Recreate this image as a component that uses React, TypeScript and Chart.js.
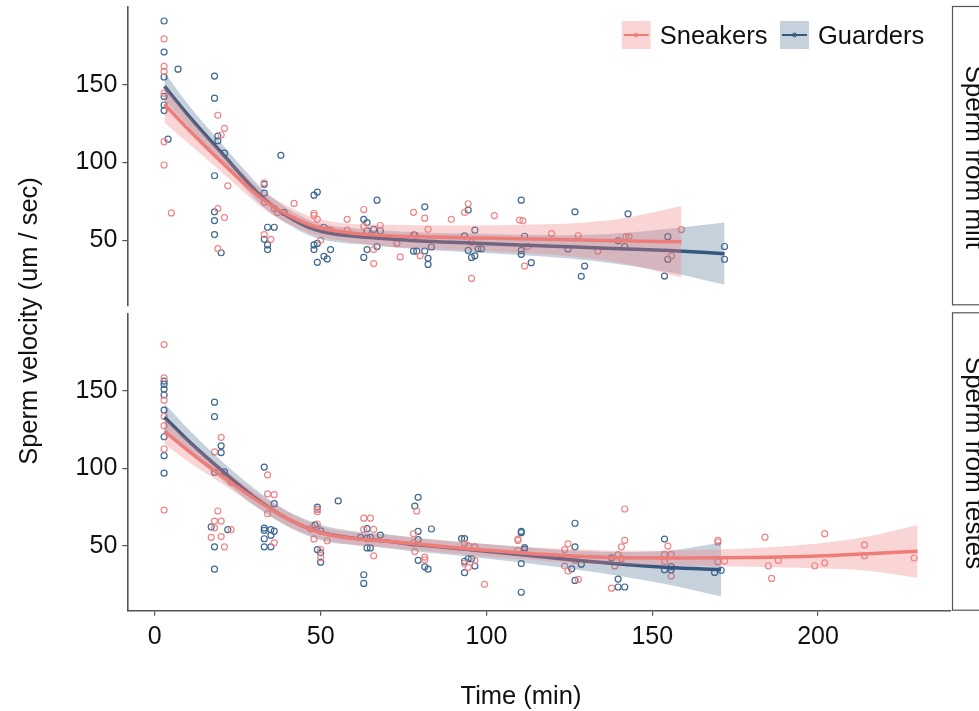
import React, { useEffect, useRef } from 'react';
import { Chart, registerables } from 'chart.js';

Chart.register(...registerables);

const FONT = '"Liberation Sans", Arial, Helvetica, sans-serif';

// ---- axes ----
const timeTicks = [0, 50, 100, 150, 200];
const velocityTicks = [50, 100, 150];
const timeRange = [-8.3, 240];
const velocityRange = [8.2, 200];

const groups = ['Sneakers', 'Guarders'];
const panels = ['Sperm from milt', 'Sperm from testes'];

// ---- observations: [time (min), velocity (um / sec)] ----
const miltSneakers: [number, number][] = [
  [2.8, 179.5], [2.8, 161.8], [2.8, 158.6], [2.8, 144.6], [2.8, 113.4], [2.8, 98.4], [5, 67.6],
  [19, 130.4], [21, 122], [20, 117.7], [22, 85], [19, 70.4], [21, 64.6], [19, 44.6],
  [33, 87], [33, 74.5], [36, 70.4], [37, 67.9], [33, 53.7], [35, 50.6], [42, 73.7],
  [48, 67.4], [48, 66], [49, 63.5], [50, 50], [52, 56.5], [53, 56.5], [58, 63.5], [58, 56.5],
  [63, 69.8], [63, 59], [68, 59.5], [66, 44], [66, 35], [73, 48], [74, 39.3],
  [78, 68], [78, 53.7], [80, 40], [81.4, 64.2], [82.4, 57.1], [89.4, 63.5], [94.5, 73.5],
  [93.4, 67.9], [95.5, 48.7], [95.5, 25.5], [102.4, 65.9], [110, 63], [111, 62.5],
  [111.5, 33.4], [112.5, 46], [119.6, 54.3], [127.7, 53], [133.6, 43.1], [142, 52.2],
  [143, 52.2], [155.8, 40], [158.8, 56.9],
];

const miltGuarders: [number, number][] = [
  [2.8, 191], [2.8, 171], [2.8, 155], [2.8, 142.5], [2.8, 137], [2.8, 133.4], [4, 115], [7, 160],
  [18, 155.6], [18, 141.4], [19, 117], [19, 114], [21, 106], [18, 91.5], [18, 68.3], [18, 62.7],
  [18, 53.7], [20, 42], [33, 86], [33, 80.3], [34, 58.4], [36, 58.4], [33, 50.6], [34, 47],
  [34, 44], [38, 104.6], [39, 67.9], [48, 79], [49, 81], [48, 47], [48, 44], [49, 48],
  [51, 39.7], [52, 38], [53, 44], [51, 58.4], [49, 35.8], [63, 63.5], [64, 61.4], [67, 75.8],
  [64, 56], [66, 57], [68, 56], [67, 46], [64, 44], [63, 39], [78, 43], [79, 43],
  [81.4, 71.5], [78.4, 53.4], [81.4, 43.1], [82.4, 38.4], [82.4, 34.5], [83.4, 45.7],
  [93.4, 52.8], [94.5, 69.4], [96.5, 56.5], [94.5, 43.5], [95.5, 39], [96.5, 40], [97.5, 44.5],
  [98.5, 44.5], [110.5, 75.8], [111.5, 52.6], [110.5, 43.5], [110.5, 41], [113.5, 35.6],
  [124.6, 44.4], [126.7, 68.3], [129.6, 33.4], [128.6, 26.8], [139.7, 49.7], [141.7, 46],
  [142.7, 67], [154.7, 52.3], [154.7, 37.8], [153.7, 27], [171.8, 46], [171.8, 37.8],
];

const testesSneakers: [number, number][] = [
  [2.8, 179.8], [2.8, 158.4], [2.8, 144], [2.8, 133.5], [2.8, 127.5], [2.8, 112.5], [2.8, 73.1],
  [20, 120], [18, 110.6], [23, 91], [19, 72.5], [18, 66], [20, 66], [18, 61.6], [17, 55.5],
  [20, 56], [21, 49.4], [23, 60.5], [34, 95.8], [34, 83.5], [36, 83], [34, 70.8], [36, 52],
  [49, 73.5], [49, 72], [49, 64.1], [47, 61], [48, 54.5], [50, 47.6], [50, 42.3], [52, 53.3],
  [63, 67.9], [65, 67.9], [63, 60.6], [66, 60.6], [66, 43.6], [79, 72.5], [78, 57.9],
  [78, 51.9], [78.4, 46.3], [81.4, 42.8], [81.4, 41], [93.4, 51.5], [94.5, 50], [96.5, 49.4],
  [93.4, 38.7], [94.5, 36.1], [96.5, 40.5], [99.4, 25.2], [109.5, 54.4], [109.5, 53.5],
  [109.5, 47.2], [123.6, 47.6], [124.6, 51.3], [123.6, 37], [124.6, 33.8], [127.7, 28.4],
  [126.7, 40.7], [141.7, 73.8], [141.7, 53.6], [140.7, 49.4], [139.7, 44.4], [140.7, 41.8],
  [138.7, 37.1], [137.7, 22.7], [154.7, 49.9], [153.7, 44.4], [153.7, 40], [155.7, 44.4],
  [155.7, 30.5], [169.8, 53.6], [169.8, 52.5], [169.8, 39.8], [171.8, 40.2], [184, 55.6],
  [185, 37.2], [188, 40.6], [186, 29], [199, 37.2], [202, 57.9], [202, 39.1], [214, 50.6],
  [214, 43.7], [229, 42.2],
];

const testesGuarders: [number, number][] = [
  [2.8, 156.2], [2.8, 154.1], [2.8, 151.1], [2.8, 147.3], [2.8, 137.6], [2.8, 120.4], [2.8, 108.2],
  [2.8, 96.9], [18, 142.7], [18, 133.3], [20, 114.5], [20, 110.2], [21, 97.7], [18, 97.5],
  [17, 62.2], [22, 60.5], [18, 49.4], [18, 35], [33, 100.8], [36, 77.2], [33, 61.5], [33, 60],
  [35, 60.5], [36, 59.5], [33, 54.6], [33, 49.4], [35, 49.4], [35, 56.8], [48.3, 63.5], [49, 75],
  [49, 73.5], [50, 59.7], [49, 47.6], [50, 45.5], [50, 39.5], [55.3, 79], [64, 61.1], [62, 55.5],
  [64, 55], [65, 55.5], [64, 48.7], [65, 48.7], [68, 57], [63, 31.4], [63, 25.8], [78.4, 75.7],
  [79.4, 81.3], [79.4, 59.4], [79.4, 54.1], [79.4, 40.7], [81.4, 36.5], [82.4, 35], [83.4, 60.9],
  [92.5, 54.7], [93.4, 54.7], [93.4, 40.1], [93.4, 32.7], [94.5, 41.7], [95.5, 41.7], [96.5, 37],
  [110.5, 59.4], [110.5, 58.5], [111.5, 48.9], [111.5, 47.8], [110.5, 38.6], [110.5, 20.1],
  [126.7, 64.6], [126.7, 49.4], [125.7, 35.2], [126.7, 27.7], [128.6, 38.2], [137.7, 42.3],
  [139.7, 28.6], [141.7, 23.5], [139.7, 23.5], [153.7, 54.4], [153.7, 34.6], [155.7, 36.6],
  [155.7, 34.6], [168.8, 32.9], [170.8, 34.3],
];

// ---- loess fits: evaluation times, fitted velocity, half-width of the 95% band ----
const miltSneakersFitTime = [2.9, 10, 20, 33, 40, 48, 60, 70, 80, 95, 110, 125, 140, 158.8];
const miltSneakersFit = [137.5, 121.5, 100.5, 75.5, 66.5, 59, 54.5, 53, 52.2, 51.5, 51, 50.3, 49.7, 49];
const miltSneakersHalf = [12, 9, 6.5, 5.5, 5.5, 5.5, 6, 7, 7.5, 8, 9, 10.5, 14, 23];

const miltGuardersFitTime = [2.9, 10, 20, 33, 40, 48, 56, 65, 80, 95, 110, 125, 140, 155, 171.8];
const miltGuardersFit = [149, 130.5, 106.5, 76.5, 65.5, 57, 53.5, 51.8, 49.5, 48.3, 47, 45.8, 44.6, 43.4, 41.4];
const miltGuardersHalf = [9, 7, 6, 5.5, 5, 5, 5, 5, 5.5, 6, 6.5, 7.5, 10, 14, 20];

const testesSneakersFitTime = [2.9, 10, 20, 30, 40, 50, 60, 70, 80, 95, 110, 127, 142, 160, 180, 200, 215, 230];
const testesSneakersFit = [124, 111.5, 95.5, 80.5, 67.5, 58.5, 54.7, 53, 51, 48, 45.5, 43.3, 42.3, 42.2, 42.5, 43.5, 45, 46.5];
const testesSneakersHalf = [8.5, 7, 5, 4.5, 4.5, 4, 4, 4, 4, 4, 4, 4.5, 4.5, 5, 6, 8, 11, 17];

const testesGuardersFitTime = [2.9, 10, 20, 30, 40, 50, 60, 70, 80, 95, 110, 127, 142, 155, 170.8];
const testesGuardersFit = [133, 118, 99, 81.5, 67.5, 58.7, 55, 53, 50.5, 47.5, 44.4, 40.8, 38, 36, 34.8];
const testesGuardersHalf = [9, 7.5, 6, 5.5, 5, 5, 4.5, 4.5, 4.5, 4.5, 5, 6, 8, 11, 17.4];

// ---- styling ----
const SNEAK_LINE = '#EE7D79';
const SNEAK_POINT = '#F08585';
const SNEAK_FILL = 'rgba(240,128,128,0.33)';
const GUARD_LINE = '#36587F';
const GUARD_POINT = '#3E6892';
const GUARD_FILL = 'rgba(62,95,135,0.29)';
const AXIS_COLOR = '#555555';
const TEXT_COLOR = '#111111';

interface Series {
  points: [number, number][];
  fitTime: number[];
  fit: number[];
  half: number[];
}

const panelSeries: { sneakers: Series; guarders: Series }[] = [
  {
    sneakers: { points: miltSneakers, fitTime: miltSneakersFitTime, fit: miltSneakersFit, half: miltSneakersHalf },
    guarders: { points: miltGuarders, fitTime: miltGuardersFitTime, fit: miltGuardersFit, half: miltGuardersHalf },
  },
  {
    sneakers: { points: testesSneakers, fitTime: testesSneakersFitTime, fit: testesSneakersFit, half: testesSneakersHalf },
    guarders: { points: testesGuarders, fitTime: testesGuardersFitTime, fit: testesGuardersFit, half: testesGuardersHalf },
  },
];

// panel boxes in canvas pixels
const PLOT_LEFT = 127.3;
const PLOT_RIGHT = 950.7;
const panelTops = [7, 313.3];
const panelBottoms = [305.3, 610.7];
const Y_AXIS_W = 70;
const X_AXIS_H = 40;
const W = 979;
const H = 711;

const curve = (s: Series, sign: number) =>
  s.fitTime.map((x, i) => ({ x, y: s.fit[i] + sign * s.half[i] }));
const scatter = (pts: [number, number][]) => pts.map(([x, y]) => ({ x, y }));

function buildDatasets(sn: Series, gd: Series): any[] {
  const smooth = {
    showLine: true,
    pointRadius: 0,
    pointHoverRadius: 0,
    cubicInterpolationMode: 'monotone',
  };
  const dots = (color: string) => ({
    showLine: false,
    pointStyle: 'circle',
    pointRadius: 3,
    pointBorderWidth: 1.2,
    pointBorderColor: color,
    pointBackgroundColor: 'rgba(0,0,0,0)',
    fill: false,
  });
  return [
    { ...smooth, label: groups[0], data: curve(sn, 0), borderColor: SNEAK_LINE, borderWidth: 3.5, fill: false, order: 0 },
    { ...smooth, data: curve(sn, 1), borderColor: 'rgba(0,0,0,0)', borderWidth: 0, backgroundColor: SNEAK_FILL, fill: 2, order: 1 },
    { ...smooth, data: curve(sn, -1), borderColor: 'rgba(0,0,0,0)', borderWidth: 0, fill: false, order: 1 },
    { ...smooth, label: groups[1], data: curve(gd, 0), borderColor: GUARD_LINE, borderWidth: 3.5, fill: false, order: 2 },
    { ...smooth, data: curve(gd, 1), borderColor: 'rgba(0,0,0,0)', borderWidth: 0, backgroundColor: GUARD_FILL, fill: 5, order: 3 },
    { ...smooth, data: curve(gd, -1), borderColor: 'rgba(0,0,0,0)', borderWidth: 0, fill: false, order: 3 },
    { ...dots(SNEAK_POINT), data: scatter(sn.points), order: 4 },
    { ...dots(GUARD_POINT), data: scatter(gd.points), order: 5 },
  ];
}

function decorPlugin(panelIndex: number, isBottom: boolean) {
  return {
    id: 'decor' + panelIndex,
    afterDraw(chart: any) {
      const ctx: CanvasRenderingContext2D = chart.ctx;
      const area = chart.chartArea;
      ctx.save();

      // facet strip on the right
      ctx.fillStyle = '#ffffff';
      ctx.fillRect(952, area.top - 1, 60, area.bottom - area.top);
      ctx.strokeStyle = AXIS_COLOR;
      ctx.lineWidth = 1.2;
      ctx.strokeRect(952.5, area.top - 0.5, 60, area.bottom - area.top);
      ctx.save();
      ctx.translate(966, (area.top + area.bottom) / 2 + 1);
      ctx.rotate(Math.PI / 2);
      ctx.fillStyle = TEXT_COLOR;
      ctx.font = `26px ${FONT}`;
      ctx.textAlign = 'center';
      ctx.textBaseline = 'alphabetic';
      ctx.fillText(panels[panelIndex], 0, 0);
      ctx.restore();

      if (!isBottom) {
        // legend
        const keys = [
          { x: 621.7, fill: SNEAK_FILL, line: SNEAK_LINE },
          { x: 780, fill: GUARD_FILL, line: GUARD_LINE },
        ];
        keys.forEach((k, i) => {
          ctx.fillStyle = k.fill;
          ctx.fillRect(k.x, 21, 29, 28);
          ctx.strokeStyle = k.line;
          ctx.lineWidth = 2;
          ctx.beginPath();
          ctx.moveTo(k.x + 2, 35);
          ctx.lineTo(k.x + 27, 35);
          ctx.stroke();
          ctx.lineWidth = 1;
          ctx.beginPath();
          ctx.arc(k.x + 14.5, 35, 2, 0, Math.PI * 2);
          ctx.stroke();
          ctx.fillStyle = TEXT_COLOR;
          ctx.font = `25.5px ${FONT}`;
          ctx.textAlign = 'left';
          ctx.textBaseline = 'alphabetic';
          ctx.fillText(groups[i], k.x + 38, 44.3);
        });
      } else {
        // axis titles
        ctx.fillStyle = TEXT_COLOR;
        ctx.font = `25.5px ${FONT}`;
        ctx.textAlign = 'center';
        ctx.textBaseline = 'alphabetic';
        ctx.fillText('Time (min)', 521, 704);
        ctx.save();
        ctx.translate(37, 321);
        ctx.rotate(-Math.PI / 2);
        ctx.fillText('Sperm velocity (um / sec)', 0, 0);
        ctx.restore();
      }
      ctx.restore();
    },
  };
}

function makeConfig(panelIndex: number): any {
  const isBottom = panelIndex === 1;
  const { sneakers, guarders } = panelSeries[panelIndex];
  const padLeft = PLOT_LEFT - Y_AXIS_W;
  const padBottom = isBottom ? H - panelBottoms[panelIndex] - X_AXIS_H : H - panelBottoms[panelIndex];
  return {
    type: 'line',
    data: { datasets: buildDatasets(sneakers, guarders) },
    plugins: [decorPlugin(panelIndex, isBottom)],
    options: {
      responsive: false,
      animation: false,
      devicePixelRatio: 1,
      events: [],
      layout: {
        padding: { left: padLeft, right: W - PLOT_RIGHT, top: panelTops[panelIndex], bottom: padBottom },
      },
      plugins: { legend: { display: false }, tooltip: { enabled: false } },
      scales: {
        x: {
          type: 'linear',
          min: timeRange[0],
          max: timeRange[1],
          display: isBottom,
          afterFit: (axis: any) => {
            axis.height = isBottom ? X_AXIS_H : 0;
            axis.paddingLeft = 0;
            axis.paddingRight = 0;
          },
          afterBuildTicks: (axis: any) => { axis.ticks = timeTicks.map((v) => ({ value: v })); },
          grid: { drawOnChartArea: false, drawTicks: true, tickLength: 5, color: AXIS_COLOR, lineWidth: 1.2 },
          border: { display: true, color: AXIS_COLOR, width: 1.6 },
          ticks: { color: TEXT_COLOR, font: { family: FONT, size: 25 }, padding: 6, maxRotation: 0 },
        },
        y: {
          type: 'linear',
          min: velocityRange[0],
          max: velocityRange[1],
          afterFit: (axis: any) => {
            axis.width = Y_AXIS_W;
            axis.paddingTop = 0;
            axis.paddingBottom = 0;
          },
          afterBuildTicks: (axis: any) => { axis.ticks = velocityTicks.map((v) => ({ value: v })); },
          grid: { drawOnChartArea: false, drawTicks: true, tickLength: 5, color: AXIS_COLOR, lineWidth: 1.2 },
          border: { display: true, color: AXIS_COLOR, width: 1.6 },
          ticks: { color: TEXT_COLOR, font: { family: FONT, size: 25 }, padding: 5 },
        },
      },
    },
  };
}

export default function App() {
  const topRef = useRef<HTMLCanvasElement>(null);
  const bottomRef = useRef<HTMLCanvasElement>(null);

  useEffect(() => {
    Chart.defaults.font.family = FONT;
    const charts: Chart[] = [];
    if (topRef.current) charts.push(new Chart(topRef.current, makeConfig(0)));
    if (bottomRef.current) charts.push(new Chart(bottomRef.current, makeConfig(1)));
    return () => charts.forEach((c) => c.destroy());
  }, []);

  const canvasStyle: React.CSSProperties = { position: 'absolute', left: 0, top: 0, width: W, height: H };
  return (
    <div style={{ position: 'absolute', left: 0, top: 0, width: W, height: H, background: '#ffffff', overflow: 'hidden' }}>
      <canvas ref={bottomRef} width={W} height={H} style={canvasStyle} />
      <canvas ref={topRef} width={W} height={H} style={canvasStyle} />
    </div>
  );
}
